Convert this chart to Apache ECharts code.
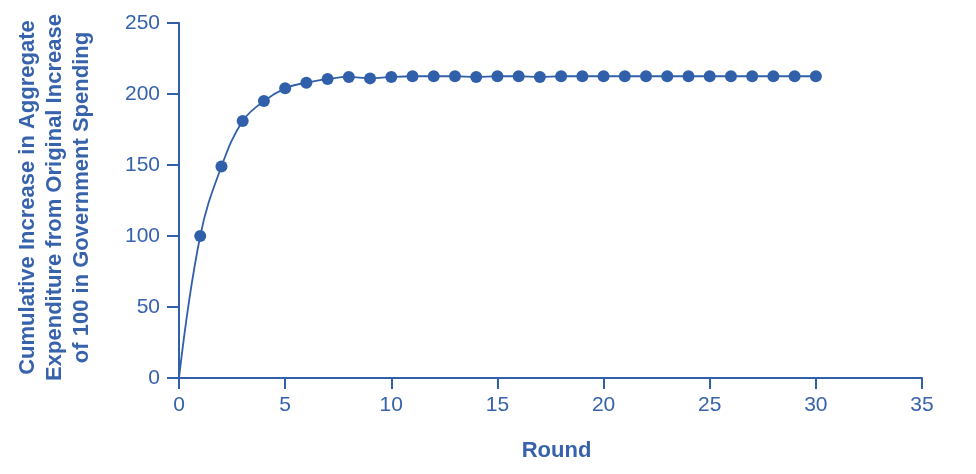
<!DOCTYPE html>
<html>
<head>
<meta charset="utf-8">
<script src="https://cdn.jsdelivr.net/npm/echarts@6/dist/echarts.min.js"></script>
<style>
html,body{margin:0;padding:0;background:#fff;}
#chart{width:976px;height:474px;}
</style>
</head>
<body>
<div id="chart"></div>
<script>
const rounds = [0,1,2,3,4,5,6,7,8,9,10,11,12,13,14,15,16,17,18,19,20,21,22,23,24,25,26,27,28,29,30];
const cumulativeIncrease = [0,100,149,181,195,204,208,210.5,212,211,212,212.5,212.5,212.5,212,212.5,212.5,212,212.5,212.5,212.5,212.5,212.5,212.5,212.5,212.5,212.5,212.5,212.5,212.5,212.5];
const xTicks = [0,5,10,15,20,25,30,35];
const yTicks = [0,50,100,150,200,250];
const xTitle = 'Round';
const yTitle = 'Cumulative Increase in Aggregate\nExpenditure from Original Increase\nof 100 in Government Spending';

const blue = '#3160aa';
const textBlue = '#3762ac';
const font = '"Liberation Sans", Arial, sans-serif';

const data = rounds.map((r, i) => {
  const p = { value: [r, cumulativeIncrease[i]] };
  if (i === 0) p.symbol = 'none';
  return p;
});

const chart = echarts.init(document.getElementById('chart'), null, { renderer: 'canvas' });
chart.setOption({
  animation: false,
  backgroundColor: '#ffffff',
  grid: { left: 179, right: 54, top: 23, bottom: 96, containLabel: false },
  xAxis: {
    type: 'value',
    min: xTicks[0], max: xTicks[xTicks.length - 1], interval: 5,
    name: xTitle,
    nameLocation: 'middle',
    nameGap: 62,
    nameTextStyle: { color: textBlue, fontFamily: font, fontSize: 22, fontWeight: 'bold', padding: [0, 0, 0, 12] },
    axisLine: { show: true, lineStyle: { color: blue, width: 2 } },
    axisTick: { show: true, inside: false, length: 11, lineStyle: { color: blue, width: 2 } },
    axisLabel: { color: textBlue, fontFamily: font, fontSize: 21, margin: 17 },
    splitLine: { show: false }
  },
  yAxis: {
    type: 'value',
    min: yTicks[0], max: yTicks[yTicks.length - 1], interval: 50,
    name: yTitle,
    nameLocation: 'middle',
    nameGap: 84,
    nameTextStyle: { color: textBlue, fontFamily: font, fontSize: 22, fontWeight: 'bold', lineHeight: 27, align: 'center', padding: [0, 0, 0, 6] },
    axisLine: { show: true, lineStyle: { color: blue, width: 2 } },
    axisTick: { show: true, inside: false, length: 12, lineStyle: { color: blue, width: 2 } },
    axisLabel: { color: textBlue, fontFamily: font, fontSize: 21, margin: 19 },
    splitLine: { show: false }
  },
  series: [{
    type: 'line',
    data: data,
    smooth: 0.4,
    symbol: 'circle',
    symbolSize: 12,
    showAllSymbol: true,
    lineStyle: { color: blue, width: 1.8 },
    itemStyle: { color: blue }
  }]
});
</script>
</body>
</html>
